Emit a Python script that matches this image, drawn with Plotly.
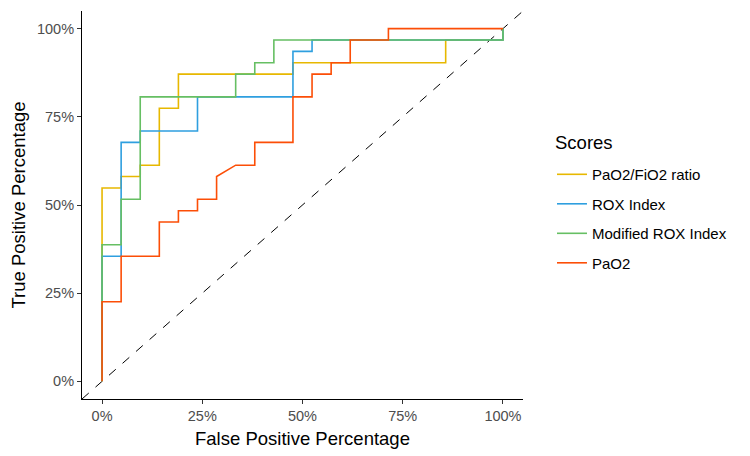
import plotly.graph_objects as go

# Number of negatives / positives (denominators of the ROC steps)
n_neg = 21
n_pos = 31

series_names = ["PaO2/FiO2 ratio", "ROX Index", "Modified ROX Index", "PaO2"]
series_colors = ["#E7B800", "#2E9FDF", "#66BF63", "#FC4E07"]
legend_title = "Scores"

# ROC vertices as counts (false positives, true positives)
fp_pf_ratio = [0, 0, 1, 1, 2, 2, 3, 3, 4, 4, 10, 10, 18, 18, 21, 21]
tp_pf_ratio = [0, 17, 17, 18, 18, 19, 19, 24, 24, 27, 27, 28, 28, 30, 30, 31]

fp_rox = [0, 0, 1, 1, 2, 2, 5, 5, 10, 10, 11, 11, 21, 21]
tp_rox = [0, 11, 11, 21, 21, 22, 22, 25, 25, 29, 29, 30, 30, 31]

fp_mrox = [0, 0, 1, 1, 2, 2, 7, 7, 8, 8, 9, 9, 21, 21]
tp_mrox = [0, 12, 12, 16, 16, 25, 25, 27, 27, 28, 28, 30, 30, 31]

fp_pao2 = [0, 0, 1, 1, 3, 3, 4, 4, 5, 5, 6, 6, 7, 8, 8, 10, 10, 11, 11, 12, 12, 13, 13, 15, 15, 21]
tp_pao2 = [0, 7, 7, 11, 11, 14, 14, 15, 15, 16, 16, 18, 19, 19, 21, 21, 25, 25, 27, 27, 28, 28, 30, 30, 31, 31]

tick_vals = [0, 0.25, 0.5, 0.75, 1.0]
tick_text = ["0%", "25%", "50%", "75%", "100%"]

font_family = "Liberation Sans, Arial, sans-serif"

fig = go.Figure()

all_fp = [fp_pf_ratio, fp_rox, fp_mrox, fp_pao2]
all_tp = [tp_pf_ratio, tp_rox, tp_mrox, tp_pao2]
for i, (name, color, fp, tp) in enumerate(zip(series_names, series_colors, all_fp, all_tp)):
    fig.add_trace(go.Scatter(
        x=[v / n_neg for v in fp],
        y=[v / n_pos for v in tp],
        mode="lines",
        name=name,
        legendgroup=f"g{i}",
        line=dict(color=color, width=1.6),
        hoverinfo="skip",
    ))

# Reference diagonal (spans the full expanded range)
fig.add_shape(type="line", xref="x", yref="y", x0=-0.05, y0=-0.05, x1=1.05, y1=1.05,
              line=dict(color="black", width=1, dash="dash"), layer="below")

axis_common = dict(
    range=[-0.05, 1.05],
    tickvals=tick_vals,
    ticktext=tick_text,
    showgrid=False,
    zeroline=False,
    showline=True,
    linecolor="black",
    linewidth=1.1,
    ticks="outside",
    ticklen=4,
    tickwidth=1.1,
    tickcolor="#333333",
    automargin=False,
    tickfont=dict(family=font_family, size=14.5, color="#4D4D4D"),
)

# The page body adds an 8px margin; the figure is sized to fill the rest of the window.
fig.update_layout(
    width=742,
    height=448,
    margin=dict(l=73.5, r=227, t=2.6, b=56.6, autoexpand=False),
    plot_bgcolor="white",
    paper_bgcolor="white",
    font=dict(family=font_family),
    xaxis=dict(**axis_common,
               title=dict(text="False Positive Percentage",
                          font=dict(family=font_family, size=18.5, color="black"),
                          standoff=8)),
    yaxis=dict(**axis_common,
               title=dict(text="True Positive Percentage",
                          font=dict(family=font_family, size=18.5, color="black"),
                          standoff=6)),
    legend=dict(
        font=dict(family=font_family, size=15, color="black"),
        x=1.0657, y=0.621, xanchor="left", yanchor="top",
        tracegroupgap=7,
        bgcolor="rgba(0,0,0,0)",
    ),
    showlegend=True,
    annotations=[dict(
        text=legend_title, xref="paper", yref="paper",
        x=1.068, y=0.662, xanchor="left", yanchor="middle",
        showarrow=False,
        font=dict(family=font_family, size=18.5, color="black"),
    )],
)

fig.write_html("out.html")
